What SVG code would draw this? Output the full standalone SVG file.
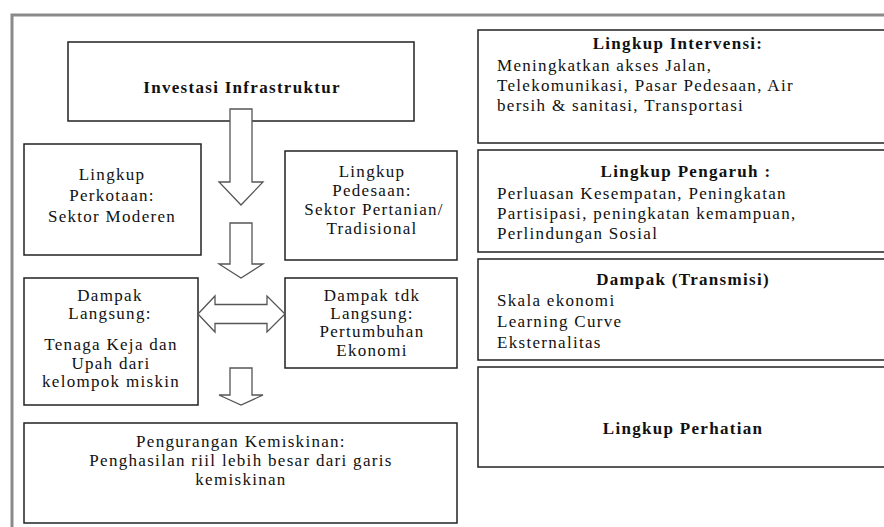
<svg xmlns="http://www.w3.org/2000/svg" width="884" height="527" viewBox="0 0 884 527">
<style>
.box{fill:#fff;stroke:#222;stroke-width:1.5}
.t{font-family:"Liberation Serif","Times New Roman",serif;font-size:17px;fill:#111;letter-spacing:1.3px}
.c{text-anchor:middle}
.b{font-weight:bold}
.arr{fill:#fff;stroke:#555;stroke-width:1.3;stroke-linejoin:miter}
.frame{fill:none;stroke:#8a8a8a;stroke-width:3}
</style>
<rect width="884" height="527" fill="#fff"/>
<path class="frame" d="M12,527 V15 H884"/>

<g id="investasi">
<rect class="box" x="68" y="42" width="346" height="79"/>
<text class="t c b" x="242" y="93">Investasi Infrastruktur</text>
</g>

<g id="perkotaan">
<rect class="box" x="24" y="144" width="177" height="111"/>
<text class="t c" x="112" y="180">Lingkup</text>
<text class="t c" x="112" y="201">Perkotaan:</text>
<text class="t c" x="112" y="222">Sektor Moderen</text>
</g>

<g id="pedesaan">
<rect class="box" x="285" y="151" width="172" height="109"/>
<text class="t c" x="372" y="177">Lingkup</text>
<text class="t c" x="372" y="196">Pedesaan:</text>
<text class="t c" x="374" y="215">Sektor Pertanian/</text>
<text class="t c" x="372" y="234">Tradisional</text>
</g>

<g id="dampak-langsung">
<rect class="box" x="24" y="278" width="174" height="127"/>
<text class="t c" x="110" y="301">Dampak</text>
<text class="t c" x="110" y="319">Langsung:</text>
<text class="t c" x="111" y="350">Tenaga Keja dan</text>
<text class="t c" x="111" y="369">Upah dari</text>
<text class="t c" x="111" y="387">kelompok miskin</text>
</g>

<g id="dampak-tdk-langsung">
<rect class="box" x="285" y="278" width="172" height="90"/>
<text class="t c" x="372" y="301">Dampak tdk</text>
<text class="t c" x="372" y="319">Langsung:</text>
<text class="t c" x="372" y="337">Pertumbuhan</text>
<text class="t c" x="372" y="356">Ekonomi</text>
</g>

<g id="pengurangan">
<rect class="box" x="24" y="423" width="433" height="100"/>
<text class="t c" x="241" y="447">Pengurangan Kemiskinan:</text>
<text class="t c" x="241" y="466">Penghasilan riil lebih besar dari garis</text>
<text class="t c" x="241" y="485">kemiskinan</text>
</g>

<g id="lingkup-intervensi">
<rect class="box" x="478" y="30" width="420" height="113"/>
<text class="t c b" x="678" y="49">Lingkup Intervensi:</text>
<text class="t" x="497" y="71">Meningkatkan akses Jalan,</text>
<text class="t" x="497" y="91">Telekomunikasi, Pasar Pedesaan, Air</text>
<text class="t" x="497" y="111">bersih &amp; sanitasi, Transportasi</text>
</g>

<g id="lingkup-pengaruh">
<rect class="box" x="478" y="150" width="420" height="102"/>
<text class="t c b" x="686" y="177">Lingkup Pengaruh :</text>
<text class="t" x="497" y="199">Perluasan Kesempatan, Peningkatan</text>
<text class="t" x="497" y="219">Partisipasi, peningkatan kemampuan,</text>
<text class="t" x="497" y="239">Perlindungan Sosial</text>
</g>

<g id="dampak-transmisi">
<rect class="box" x="478" y="259" width="420" height="101"/>
<text class="t c b" x="683" y="285">Dampak (Transmisi)</text>
<text class="t" x="497" y="306">Skala ekonomi</text>
<text class="t" x="497" y="327">Learning Curve</text>
<text class="t" x="497" y="348">Eksternalitas</text>
</g>

<g id="lingkup-perhatian">
<rect class="box" x="478" y="367" width="420" height="100"/>
<text class="t c b" x="683" y="434">Lingkup Perhatian</text>
</g>

<g id="connectors">
<polygon class="arr" points="230,109 252,109 252,182 263,182 241,205 219,182 230,182"/>
<polygon class="arr" points="230,223 252,223 252,264 263,264 241,278 219,264 230,264"/>
<polygon class="arr" points="230,368 252,368 252,395 263,395 241,405 219,395 230,395"/>
<polygon class="arr" points="198,314 215,296 215,304.5 267,304.5 267,296 285,314 267,332 267,323.5 215,323.5 215,332"/>
</g>
</svg>
